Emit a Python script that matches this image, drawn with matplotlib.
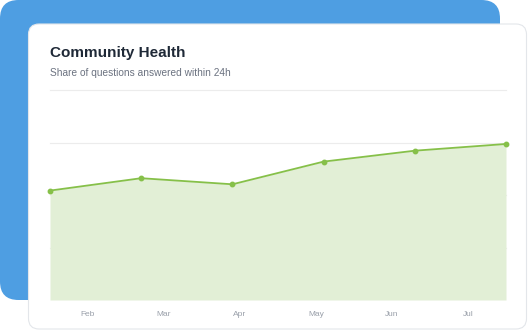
import matplotlib.pyplot as plt
from matplotlib.patches import FancyBboxPatch

# data
months = ['Feb', 'Mar', 'Apr', 'May', 'Jun', 'Jul']
answered_24h = [52.1, 58.0, 55.1, 65.9, 71.1, 74.3]

W, H = 528, 330
plt.rcParams['font.family'] = ['Liberation Sans', 'DejaVu Sans']

fig = plt.figure(figsize=(W / 100, H / 100), dpi=100)

def fx(px):
    return px / W

def fy(py):
    return 1 - py / H

# blue backdrop and white card
blue = FancyBboxPatch((fx(0), fy(300)), fx(500), 300 / H,
                      boxstyle='round,pad=0,rounding_size=0.035',
                      transform=fig.transFigure, facecolor='#4e9ee2',
                      edgecolor='none', zorder=0, mutation_aspect=W / H)
card = FancyBboxPatch((fx(28.5), fy(329)), fx(498), 305 / H,
                      boxstyle='round,pad=0,rounding_size=0.02',
                      transform=fig.transFigure, facecolor='white',
                      edgecolor='#e3e6ea', linewidth=0.8, zorder=1,
                      mutation_aspect=W / H)
fig.patches.extend([blue, card])

fig.text(fx(50), fy(53), 'Community Health', fontsize=11, fontweight='bold',
         color='#1f2937', va='center', ha='left', zorder=3)
fig.text(fx(50), fy(72.5), 'Share of questions answered within 24h', fontsize=7.3,
         color='#6b7280', va='center', ha='left', zorder=3)

ax = fig.add_axes([fx(50), fy(300), fx(506) - fx(50), (300 - 90) / H], zorder=2)
ax.patch.set_alpha(0)
x = list(range(len(months)))
ax.set_xlim(0, len(months) - 1)
ax.set_ylim(0, 100)

for v in [25, 50, 75, 100]:
    ax.axhline(v, color='#ececec', linewidth=0.8, zorder=0, clip_on=False)

ax.fill_between(x, answered_24h, 0, color='#e2efd6', zorder=1, linewidth=0)
ax.plot(x, answered_24h, color='#86c049', linewidth=1.3, marker='o',
        markersize=3.2, zorder=2, clip_on=False)

span = len(months) - 1
tick_pos = [span / 12 + i * span / 6 for i in range(len(months))]
ax.set_xticks(tick_pos)
ax.set_xticklabels(months, fontsize=6, color='#9aa0aa')
ax.tick_params(axis='x', length=0, pad=8)
ax.set_yticks([])
for s in ax.spines.values():
    s.set_visible(False)

fig.savefig('out.png', dpi=100)
